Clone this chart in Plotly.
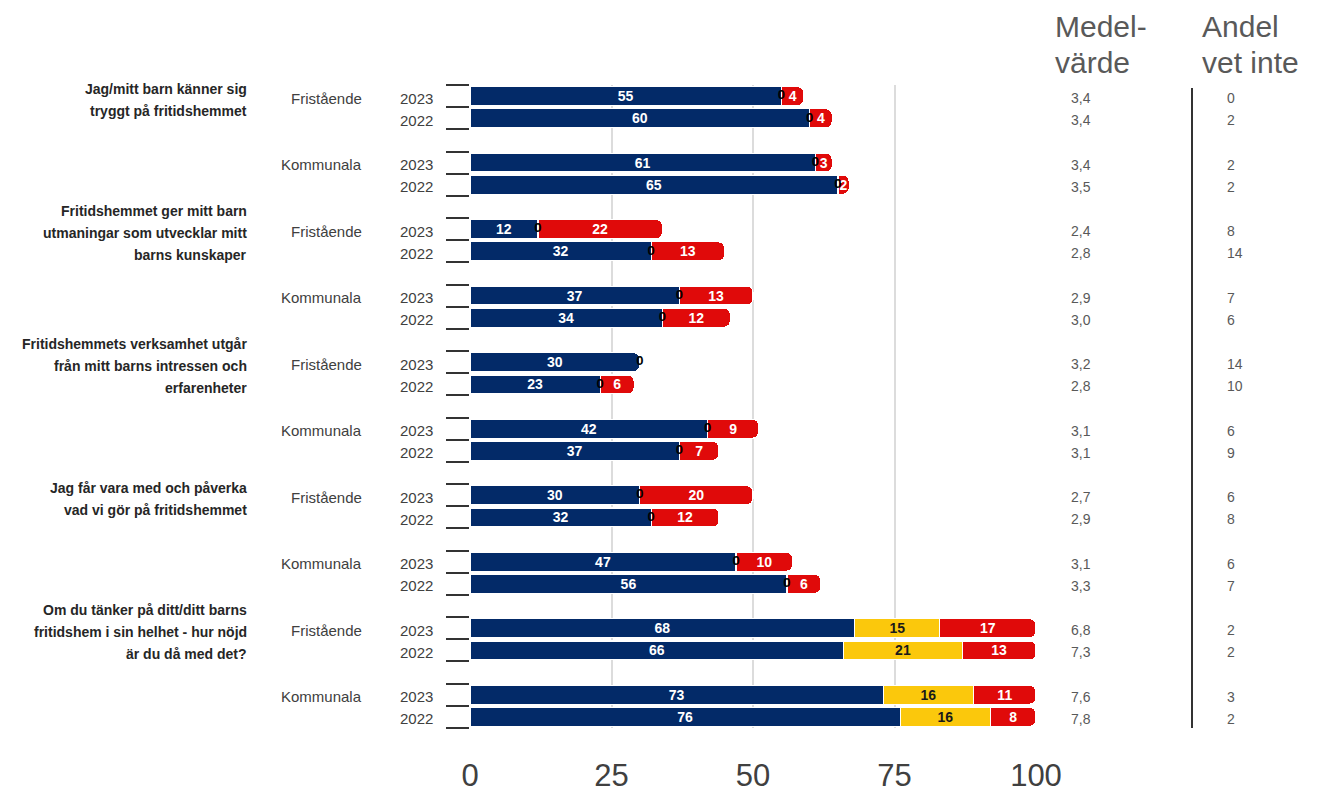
import plotly.graph_objects as go

# Survey questions (wrapped for display)
questions = [
    "Jag/mitt barn känner sig<br>tryggt på fritidshemmet",
    "Fritidshemmet ger mitt barn<br>utmaningar som utvecklar mitt<br>barns kunskaper",
    "Fritidshemmets verksamhet utgår<br>från mitt barns intressen och<br>erfarenheter",
    "Jag får vara med och påverka<br>vad vi gör på fritidshemmet",
    "Om du tänker på ditt/ditt barns<br>fritidshem i sin helhet - hur nöjd<br>är du då med det?",
]
schools = ["Fristående", "Kommunala"]
years = ["2023", "2022"]

# One value per row: question -> school -> year
positive = [55, 60, 61, 65, 12, 32, 37, 34, 30, 23, 42, 37, 30, 32, 47, 56, 68, 66, 73, 76]
neutral = [0, 0, 0, 0, 0, 0, 0, 0, 0, 0, 0, 0, 0, 0, 0, 0, 15, 21, 16, 16]
negative = [4, 4, 3, 2, 22, 13, 13, 12, 0, 6, 9, 7, 20, 12, 10, 6, 17, 13, 11, 8]
medelvarde = [3.4, 3.4, 3.4, 3.5, 2.4, 2.8, 2.9, 3.0, 3.2, 2.8, 3.1, 3.1,
              2.7, 2.9, 3.1, 3.3, 6.8, 7.3, 7.6, 7.8]
andel_vet_inte = [0, 2, 2, 2, 8, 14, 7, 6, 14, 10, 6, 9, 6, 8, 6, 7, 2, 2, 3, 2]

x_ticks = [0, 25, 50, 75, 100]

BLUE = "#032a68"
YELLOW = "#fbc80c"
RED = "#e00a0a"
TXT = "#404040"
GREY = "#595959"
FONT = "Liberation Sans, Arial, sans-serif"

# Each school group takes three slots: 2023, 2022 and a spacer
slot = []
row_school = []
row_year = []
for q in range(len(questions)):
    for s, school in enumerate(schools):
        g = q * 2 + s
        for k, yr in enumerate(years):
            slot.append(g * 3 + k)
            row_school.append(school)
            row_year.append(yr)
n_slots = slot[-1] + 1

W, H = 1319, 796
PL, PR = 470, 1036          # plot area, pixels
PT, PB = 85, 728
LINE_GAP = 22               # line pitch of the question labels, pixels


def px_x(px):
    return (px - PL) / (PR - PL)


def px_y(py):
    return (PB - py) / (PB - PT)


def seg_text(vals):
    return [str(v) if v > 0 else "" for v in vals]


fig = go.Figure()
common = dict(orientation="h", y=slot, width=0.85, textposition="inside",
              insidetextanchor="middle", textangle=0, hoverinfo="skip",
              marker_line=dict(color="white", width=1.2))
fig.add_trace(go.Bar(x=positive, text=seg_text(positive), marker_color=BLUE,
                     textfont=dict(color="white", size=14, family=FONT, weight="bold"),
                     name="positiv", **common))
fig.add_trace(go.Bar(x=neutral, text=seg_text(neutral), marker_color=YELLOW,
                     textfont=dict(color="#1a1a1a", size=14, family=FONT, weight="bold"),
                     name="neutral", **common))
fig.add_trace(go.Bar(x=negative, text=seg_text(negative), marker_color=RED,
                     textfont=dict(color="white", size=14, family=FONT, weight="bold"),
                     name="negativ", **common))

# Zero-size neutral segments still get their "0" label at the joint
zx, zy, zt = [], [], []
for i, v in enumerate(neutral):
    if v == 0:
        zx.append(positive[i] + v / 2)
        zy.append(slot[i])
        zt.append(str(v))
fig.add_trace(go.Scatter(x=zx, y=zy, text=zt, mode="text", cliponaxis=False,
                         textfont=dict(color="black", size=13, family=FONT, weight="bold"),
                         hoverinfo="skip", showlegend=False))

ann = []
# Year labels and right-hand value columns
for i in range(len(slot)):
    ann.append(dict(x=px_x(435), xref="paper", y=slot[i], yref="y", text=row_year[i],
                    xanchor="right", yanchor="middle", showarrow=False, yshift=-2,
                    font=dict(size=15, color=TXT, family=FONT)))
    ann.append(dict(x=px_x(1069), xref="paper", y=slot[i], yref="y",
                    text=f"{medelvarde[i]:.1f}".replace(".", ","),
                    xanchor="left", yanchor="middle", showarrow=False, yshift=-2,
                    font=dict(size=14, color=GREY, family=FONT)))
    ann.append(dict(x=px_x(1225), xref="paper", y=slot[i], yref="y",
                    text=str(andel_vet_inte[i]),
                    xanchor="left", yanchor="middle", showarrow=False, yshift=-2,
                    font=dict(size=14, color=GREY, family=FONT)))
    if row_year[i] == years[0]:
        ann.append(dict(x=px_x(364), xref="paper", y=slot[i], yref="y", text=row_school[i],
                        xanchor="right", yanchor="middle", showarrow=False, yshift=-2,
                        font=dict(size=15, color=TXT, family=FONT)))

# Question labels, line by line, centred on the first row of each question
for q, label in enumerate(questions):
    lines = label.split("<br>")
    n = len(lines)
    for j, line in enumerate(lines):
        ann.append(dict(x=px_x(249), xref="paper", y=q * 6, yref="y", text=line,
                        xanchor="right", yanchor="middle", showarrow=False,
                        yshift=-4 - (j - (n - 1) / 2) * LINE_GAP,
                        font=dict(size=14, color="#262626", family=FONT, weight="bold")))

# Column headers, one line each
headers = [(1053, ["Medel-", "värde"]), (1200, ["Andel", "vet inte"])]
for hx, lines in headers:
    for j, line in enumerate(lines):
        ann.append(dict(x=px_x(hx), xref="paper", y=px_y(27 + 36 * j), yref="paper",
                        text=line, xanchor="left", yanchor="middle", showarrow=False,
                        font=dict(size=30, color=GREY, family=FONT)))

fig.update_layout(
    width=W, height=H,
    margin=dict(l=PL, r=W - PR, t=PT, b=H - PB, pad=0),
    barmode="stack",
    barcornerradius=6,
    showlegend=False,
    plot_bgcolor="white",
    paper_bgcolor="white",
    uniformtext=dict(minsize=14, mode="show"),
    annotations=ann,
    shapes=[dict(type="line", xref="paper", yref="paper",
                 x0=px_x(1192), x1=px_x(1192), y0=px_y(728), y1=px_y(88),
                 line=dict(color="#333333", width=2))],
    font=dict(family=FONT),
)
fig.update_xaxes(range=[0, 100], tickvals=x_ticks, showgrid=True, automargin=False,
                 gridcolor="#dcdcdc", gridwidth=2, zeroline=False, showline=False,
                 ticks="", ticklabelstandoff=26,
                 tickfont=dict(size=31, color=TXT, family=FONT))
fig.update_yaxes(range=[n_slots - 0.5, -0.5], showgrid=False, zeroline=False,
                 showline=False, showticklabels=False, automargin=False,
                 tickvals=[b - 0.5 for b in range(n_slots + 1)],
                 ticks="outside", ticklen=23, tickwidth=2, tickcolor="#333333")

fig.write_html("out.html")
